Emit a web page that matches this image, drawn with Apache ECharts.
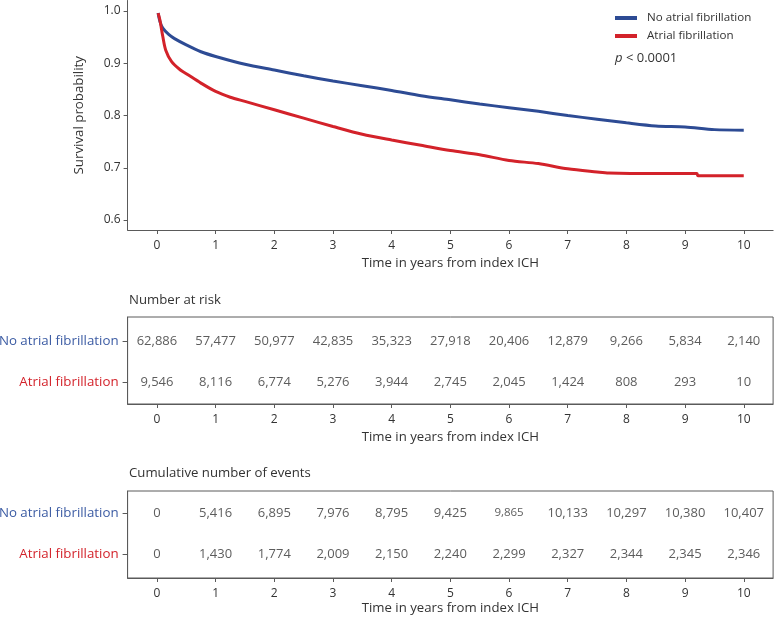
<!DOCTYPE html>
<html>
<head>
<meta charset="utf-8">
<script src="https://cdn.jsdelivr.net/npm/echarts@6/dist/echarts.min.js"></script>
<style>html,body{margin:0;padding:0;background:#fff}#c{width:774px;height:619px}</style>
</head>
<body>
<div id="c"></div>
<script>
// ---- data ----
var years = [0,1,2,3,4,5,6,7,8,9,10];
var groups = ['No atrial fibrillation', 'Atrial fibrillation'];
var timeNoAF = [0.02,0.05,0.1,0.2,0.3,0.5,0.75,1,1.5,2,2.5,3,3.5,4,4.5,5,5.5,6,6.5,7,7.5,8,8.5,9,9.5,10];
var survNoAF = [0.996,0.98,0.967,0.955,0.947,0.935,0.922,0.913,0.898,0.887,0.876,0.866,0.857,0.848,0.838,0.830,0.822,0.815,0.808,0.800,0.793,0.786,0.780,0.778,0.773,0.772];
var timeAF = [0.02,0.05,0.1,0.15,0.25,0.4,0.5,0.75,1,1.25,1.5,2,2.5,3,3.5,4,4.5,5,5.5,6,6.5,7,7.5,7.7,8.5,9.2,9.22,10];
var survAF = [0.996,0.983,0.951,0.925,0.903,0.887,0.880,0.862,0.846,0.835,0.827,0.811,0.795,0.779,0.764,0.753,0.743,0.733,0.725,0.714,0.708,0.698,0.692,0.690,0.689,0.689,0.685,0.685];
var riskNoAF = [62886,57477,50977,42835,35323,27918,20406,12879,9266,5834,2140];
var riskAF = [9546,8116,6774,5276,3944,2745,2045,1424,808,293,10];
var eventsNoAF = [0,5416,6895,7976,8795,9425,9865,10133,10297,10380,10407];
var eventsAF = [0,1430,1774,2009,2150,2240,2299,2327,2344,2345,2346];
var yTicks = [0.6,0.7,0.8,0.9,1.0];

var BLUE = '#2d4b94', RED = '#d3222a', AX = '#5a5a5a', TXT = '#333333';
var FONT = 'Open Sans';

function zip(a, b) { return a.map(function (v, i) { return [v, b[i]]; }); }
function fmt(v) { return v.toLocaleString('en-US'); }

var gL = 127.6, gW = 645.5;
function xAxisCfg(gi, gap) {
  return {
    gridIndex: gi, type: 'value', min: -0.5, max: 10.5,
    axisLine: { show: true, onZero: false, lineStyle: { color: AX, width: 1 } },
    axisTick: { show: true, customValues: years, length: 4, lineStyle: { color: AX } },
    axisLabel: { customValues: years, color: TXT, fontFamily: FONT, fontSize: 12, margin: 10 },
    splitLine: { show: false },
    name: 'Time in years from index ICH', nameLocation: 'middle', nameGap: gap,
    nameTextStyle: { color: TXT, fontFamily: FONT, fontSize: 13.2 }
  };
}
function tableY(gi, mn, mx) {
  return {
    gridIndex: gi, type: 'value', min: mn, max: mx,
    axisLine: { show: true, onZero: false, lineStyle: { color: AX } },
    axisTick: { show: true, customValues: [1, 2], length: 5, lineStyle: { color: AX } },
    axisLabel: {
      customValues: [1, 2], margin: 9, fontFamily: FONT, fontSize: 13.3,
      formatter: function (v) { return v === 2 ? '{b|' + groups[0] + '}' : '{r|' + groups[1] + '}'; },
      rich: { b: { color: '#3b5ba3', fontFamily: FONT, fontSize: 13.3 }, r: { color: RED, fontFamily: FONT, fontSize: 13.3 } }
    },
    splitLine: { show: false }
  };
}
function tableSeries(gi, top, bottom, small) {
  var d = [];
  years.forEach(function (x, i) {
    var item = { value: [x, 2, top[i]] };
    if (small && small(i)) item.label = { fontSize: 11.5 };
    d.push(item);
    d.push({ value: [x, 1, bottom[i]] });
  });
  return {
    type: 'scatter', xAxisIndex: gi, yAxisIndex: gi, symbolSize: 0,
    itemStyle: { color: 'rgba(0,0,0,0)' },
    silent: true, data: d,
    label: { show: true, position: 'inside', color: TXT, fontFamily: FONT, fontSize: 13,
      formatter: function (p) { return fmt(p.value[2]); } },
    labelLayout: { hideOverlap: false }
  };
}

var option = {
  animation: false,
  textStyle: { fontFamily: FONT },
  title: [
    { text: 'Number at risk', left: 124, top: 289, textStyle: { color: TXT, fontFamily: FONT, fontSize: 13.2, fontWeight: 'normal' } },
    { text: 'Cumulative number of events', left: 124, top: 462, textStyle: { color: TXT, fontFamily: FONT, fontSize: 13.2, fontWeight: 'normal' } },
    { text: '{i|p} < 0.0001', left: 610, top: 47, textStyle: { color: TXT, fontFamily: FONT, fontSize: 13, fontWeight: 'normal',
      rich: { i: { fontStyle: 'italic', fontFamily: FONT, fontSize: 13, color: TXT } } } }
  ],
  legend: {
    data: groups, orient: 'vertical', left: 610, top: 7, itemWidth: 22, itemHeight: 4, itemGap: 6, icon: 'rect',
    textStyle: { color: TXT, fontFamily: FONT, fontSize: 11.6, padding: [0, 0, 0, 5] }
  },
  grid: [
    { left: gL, width: gW, top: 0.5, height: 229.5, outerBoundsMode: 'none' },
    { left: gL, width: gW, top: 317, height: 87, show: true, borderColor: AX, borderWidth: 1, outerBoundsMode: 'none' },
    { left: gL, width: gW, top: 491, height: 87, show: true, borderColor: AX, borderWidth: 1, outerBoundsMode: 'none' }
  ],
  xAxis: [xAxisCfg(0, 27), xAxisCfg(1, 27), xAxisCfg(2, 24)],
  yAxis: [
    {
      gridIndex: 0, type: 'value', min: 0.581, max: 1.02,
      axisLine: { show: true, onZero: false, lineStyle: { color: AX } },
      axisTick: { show: true, customValues: yTicks, length: 4, lineStyle: { color: AX } },
      axisLabel: { customValues: yTicks, color: TXT, fontFamily: FONT, fontSize: 12, margin: 7,
        formatter: function (v) { return v.toFixed(1); } },
      splitLine: { show: false },
      name: 'Survival probability', nameLocation: 'middle', nameGap: 42, nameRotate: 90,
      nameTextStyle: { color: TXT, fontFamily: FONT, fontSize: 13.3 }
    },
    tableY(1, 0.463, 2.585), tableY(2, 0.42, 2.54)
  ],
  series: [
    { name: groups[0], type: 'line', xAxisIndex: 0, yAxisIndex: 0, data: zip(timeNoAF, survNoAF),
      showSymbol: false, smooth: 0.3, lineStyle: { color: BLUE, width: 3 }, itemStyle: { color: BLUE } },
    { name: groups[1], type: 'line', xAxisIndex: 0, yAxisIndex: 0, data: zip(timeAF, survAF),
      showSymbol: false, smooth: 0.3, lineStyle: { color: RED, width: 3 }, itemStyle: { color: RED } },
    tableSeries(1, riskNoAF, riskAF),
    tableSeries(2, eventsNoAF, eventsAF, function (i) { return i === 6; })
  ]
};
var chart = echarts.init(document.getElementById('c'), null, { renderer: 'canvas' });
chart.setOption(option);
</script>
</body>
</html>
